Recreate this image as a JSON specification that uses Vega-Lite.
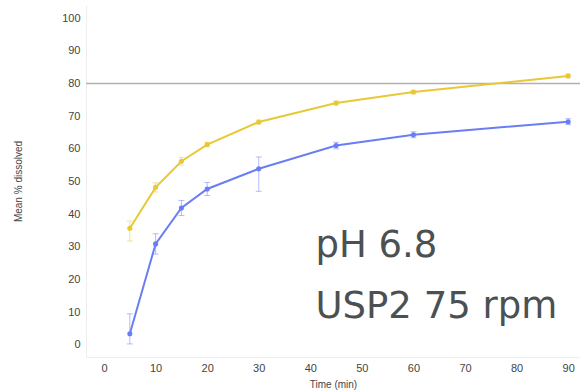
{
  "$schema": "https://vega.github.io/schema/vega-lite/v6.json",
  "width": 494,
  "height": 352,
  "autosize": "none",
  "padding": {"left": 86, "top": 5, "right": 0, "bottom": 35},
  "background": "white",
  "config": {
    "view": {"stroke": null},
    "axis": {"grid": false, "ticks": false, "domainColor": "#eeeeee", "labelColor": "#444444", "labelFont": "Liberation Sans",
      "labelFontSize": 11, "labelOverlap": false, "titleFont": "Liberation Sans", "titleFontSize": 10, "titleFontWeight": "normal", "titleColor": "#444444"},
    "axisX": {"labelPadding": 5, "titlePadding": 6},
    "axisY": {"labelPadding": 6, "titlePadding": 38}
  },
  "datasets": {
    "d": [
      {"series": "A", "time": 5, "mean": 35.7, "lo": 31.8, "hi": 37.9},
      {"series": "A", "time": 10, "mean": 48.2, "lo": 46.8, "hi": 49.6},
      {"series": "A", "time": 15, "mean": 56.2, "lo": 55.0, "hi": 57.4},
      {"series": "A", "time": 20, "mean": 61.3, "lo": 60.6, "hi": 62.0},
      {"series": "A", "time": 30, "mean": 68.2, "lo": 67.6, "hi": 68.8},
      {"series": "A", "time": 45, "mean": 74.0, "lo": 73.4, "hi": 74.6},
      {"series": "A", "time": 60, "mean": 77.4, "lo": 76.9, "hi": 77.9},
      {"series": "A", "time": 90, "mean": 82.3, "lo": 81.8, "hi": 82.8},
      {"series": "B", "time": 5, "mean": 3.4, "lo": 0.3, "hi": 9.5},
      {"series": "B", "time": 10, "mean": 30.9, "lo": 27.8, "hi": 34.0},
      {"series": "B", "time": 15, "mean": 41.9, "lo": 39.6, "hi": 44.2},
      {"series": "B", "time": 20, "mean": 47.7, "lo": 45.7, "hi": 49.7},
      {"series": "B", "time": 30, "mean": 53.9, "lo": 47.0, "hi": 57.5},
      {"series": "B", "time": 45, "mean": 61.0, "lo": 60.0, "hi": 62.0},
      {"series": "B", "time": 60, "mean": 64.3, "lo": 63.4, "hi": 65.2},
      {"series": "B", "time": 90, "mean": 68.3, "lo": 67.4, "hi": 69.2}
    ],
    "labels": [
      {"label": "pH 6.8", "time": 41.0, "v": 26.9},
      {"label": "USP2 75 rpm", "time": 41.0, "v": 8.3}
    ],
    "ref": [{"v": 80}]
  },
  "layer": [
    {
      "data": {"name": "ref"},
      "mark": {"type": "rule", "color": "#b0b0b0", "strokeWidth": 1.5},
      "encoding": {"y": {"field": "v", "type": "quantitative", "title": "Mean % dissolved",
        "axis": {"values": [0,10,20,30,40,50,60,70,80,90,100]}}}
    },
    {
      "data": {"name": "d"},
      "mark": {"type": "errorbar", "ticks": {"size": 6}, "thickness": 1, "opacity": 0.5},
      "encoding": {
        "x": {"field": "time", "type": "quantitative", "title": "Time (min)", "axis": {"values": [0,10,20,30,40,50,60,70,80,90]}},
        "y": {"field": "lo", "type": "quantitative", "title": "Mean % dissolved", "axis": {"values": [0,10,20,30,40,50,60,70,80,90,100]}},
        "y2": {"field": "hi"},
        "color": {"field": "series", "type": "nominal", "legend": null,
          "scale": {"domain": ["A", "B"], "range": ["#e8c935", "#6a7ef3"]}}
      }
    },
    {
      "data": {"name": "d"},
      "mark": {"type": "line", "strokeWidth": 2, "point": {"size": 26, "filled": true}},
      "encoding": {
        "x": {"field": "time", "type": "quantitative", "title": "Time (min)",
          "scale": {"domain": [-3.5, 92.3], "nice": false, "zero": false},
          "axis": {"values": [0,10,20,30,40,50,60,70,80,90]}},
        "y": {"field": "mean", "type": "quantitative", "title": "Mean % dissolved",
          "scale": {"domain": [-3.7, 104], "nice": false, "zero": false},
          "axis": {"values": [0,10,20,30,40,50,60,70,80,90,100]}},
        "color": {"field": "series", "type": "nominal", "legend": null}
      }
    },
    {
      "data": {"name": "labels"},
      "mark": {"type": "text", "align": "left", "baseline": "alphabetic", "font": "DejaVu Sans", "fontSize": 37, "color": "#4b5152"},
      "encoding": {
        "x": {"field": "time", "type": "quantitative", "title": "Time (min)", "axis": {"values": [0,10,20,30,40,50,60,70,80,90]}},
        "y": {"field": "v", "type": "quantitative", "title": "Mean % dissolved", "axis": {"values": [0,10,20,30,40,50,60,70,80,90,100]}},
        "text": {"field": "label"}
      }
    }
  ]
}
